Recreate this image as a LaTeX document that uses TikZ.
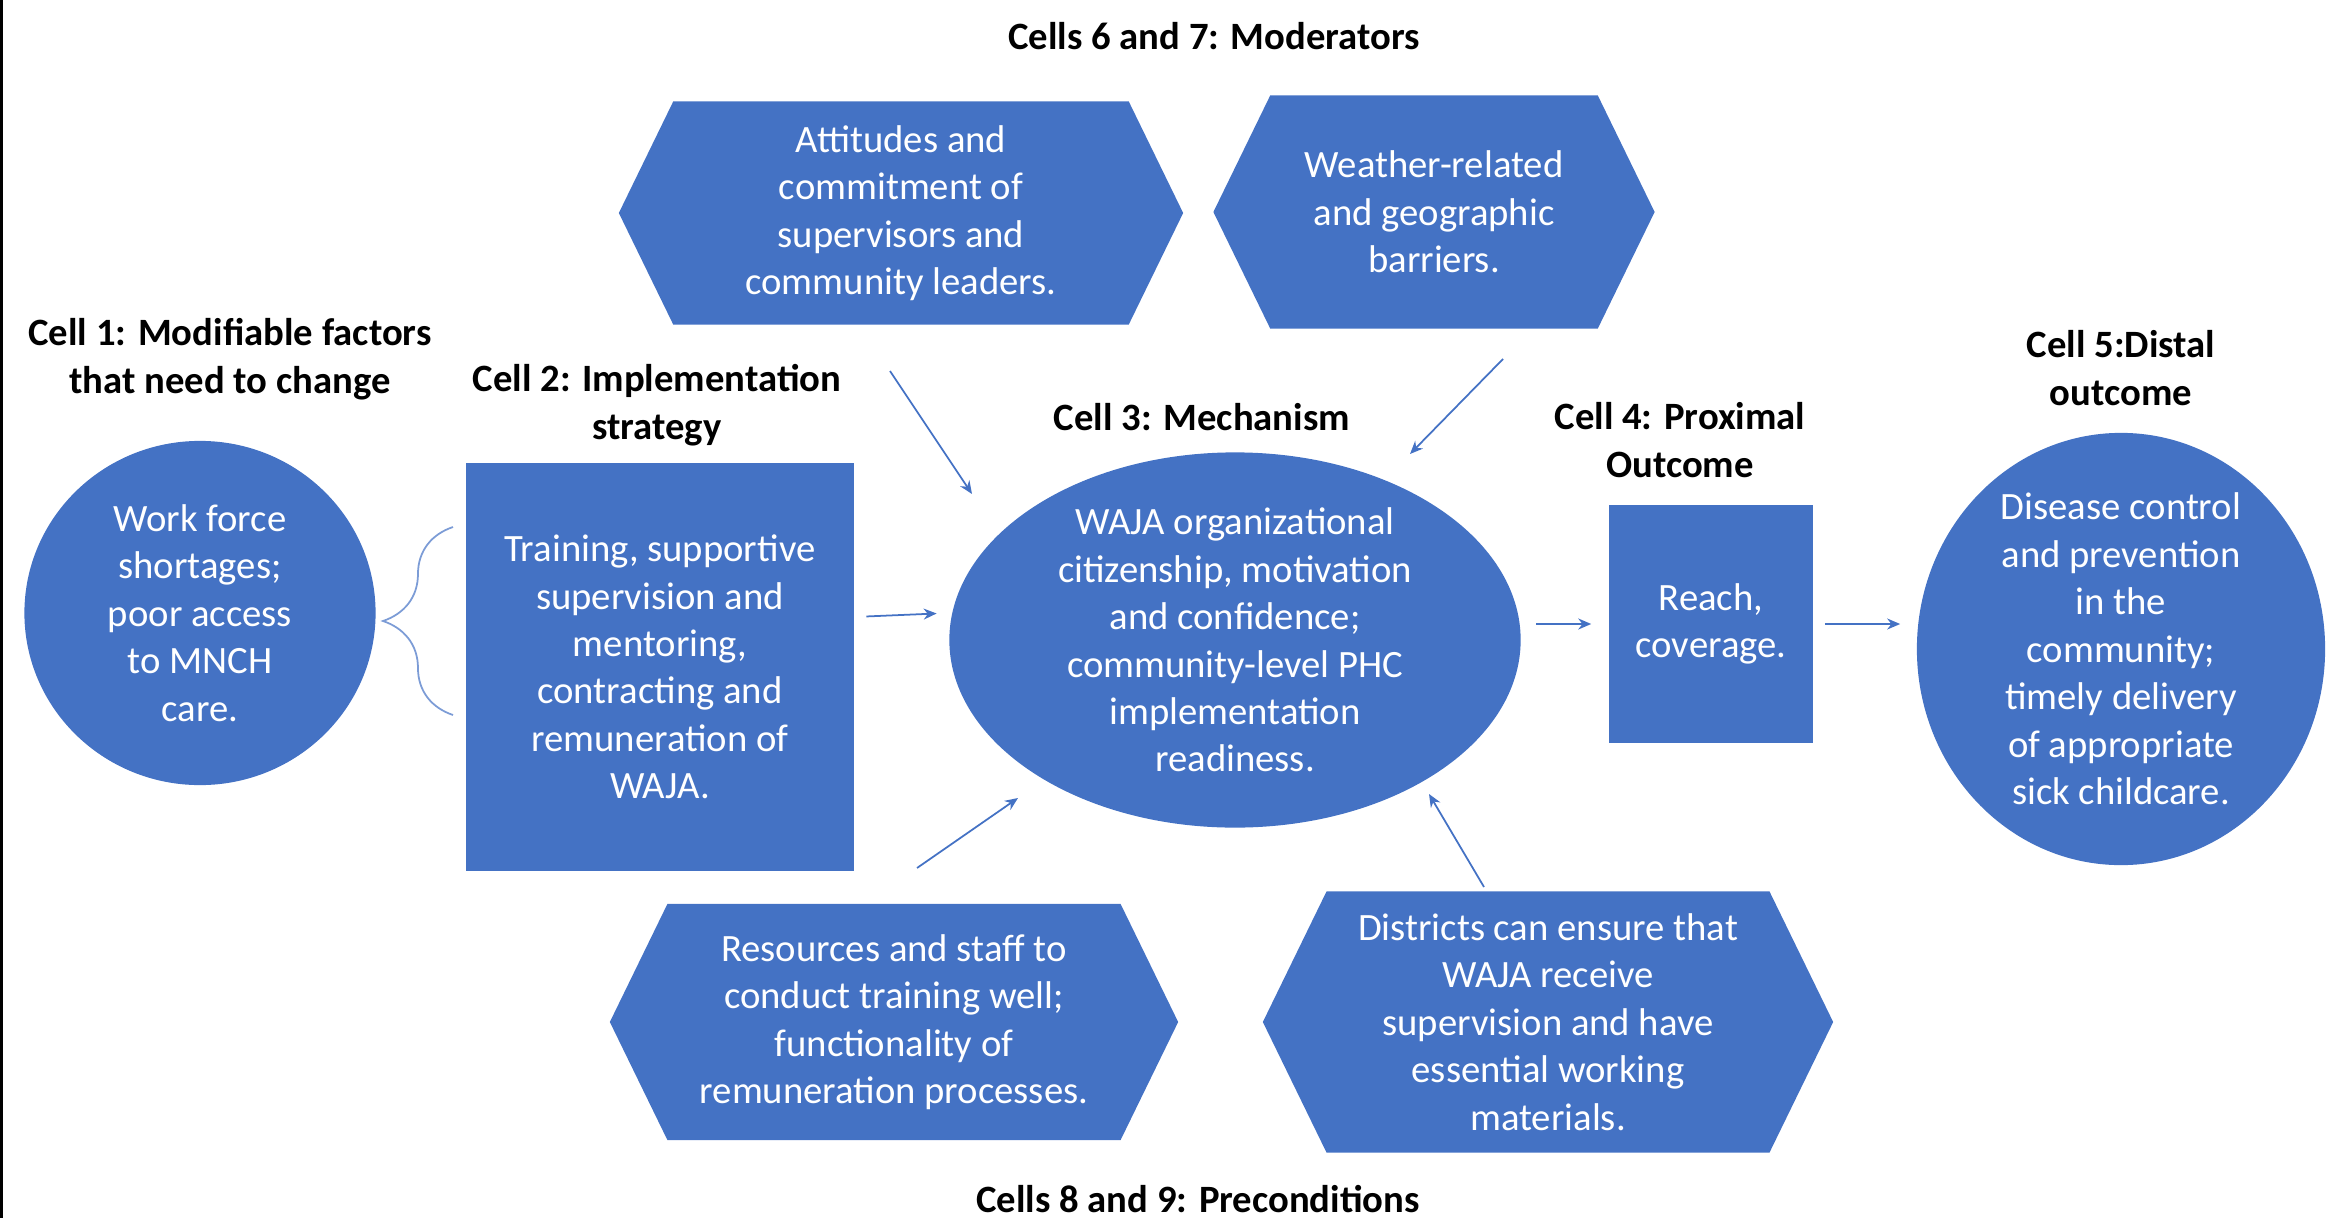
\documentclass[tikz,border=0pt]{standalone}
\usepackage{fontspec}
\setmainfont{Carlito}
\usetikzlibrary{shapes.geometric, shapes.symbols, arrows.meta, decorations.pathreplacing}
\definecolor{cellblue}{HTML}{4472C4}

\begin{document}
\begin{tikzpicture}[
    x = 0.01cm, y = -0.01cm,
    every node/.style = {font = \fontsize{11}{13.5}\selectfont, align = center},
    cellhead/.style = {font = \fontsize{11}{13.5}\selectfont\bfseries},
    cellbox/.style = {fill = cellblue, text = white, inner sep = 0pt},
    cellround/.style = {cellbox, ellipse, inner xsep = 0pt, inner ysep = -8pt},
    cellhex/.style = {cellbox, signal, signal to = west and east, signal pointer angle = 128},
    arr/.style = {draw = cellblue, line width = 0.5pt, -{Stealth[length = 1.3mm, width = 1.1mm]}}
  ]
  \useasboundingbox (0,0) rectangle (2327,1218);
  \draw[line width = 0.3mm] (1.5,0) -- (1.5,1218);

  % moderators
  \node[cellhead] (modhead) at (1214,36) {Cells 6 and 7: Moderators};
  \node[cellhex, minimum width = 5.64cm, minimum height = 2.23cm] (attitudes) at (901,213)
    {Attitudes and\\ commitment of\\ supervisors and\\ community leaders.};
  \node[cellhex, minimum width = 4.41cm, minimum height = 2.33cm] (weather) at (1434,212)
    {Weather-related\\ and geographic\\ barriers.};

  % cells 1 to 5
  \node[cellhead] (head1) at (230,359) {Cell 1: Modifiable factors\\ that need to change};
  \node[cellround, minimum width = 3.51cm, minimum height = 3.44cm] (factors) at (200,613)
    {Work force\\ shortages;\\ poor access\\ to MNCH\\ care.};
  \node[cellhead] (head2) at (657,405) {Cell 2: Implementation\\ strategy};
  \node[cellbox, minimum width = 3.87cm, minimum height = 4.08cm] (strategy) at (660,667)
    {Training, supportive\\ supervision and\\ mentoring,\\ contracting and\\ remuneration of\\ WAJA.};
  \node[cellhead] (head3) at (1202,417) {Cell 3: Mechanism};
  \node[cellround, minimum width = 5.71cm, minimum height = 3.75cm] (mechanism) at (1235,640)
    {WAJA organizational\\ citizenship, motivation\\ and confidence;\\ community-level PHC\\ implementation\\ readiness.};
  \node[cellhead] (head4) at (1680,440) {Cell 4: Proximal\\ Outcome};
  \node[cellbox, minimum width = 2.04cm, minimum height = 2.37cm] (reach) at (1711,624)
    {Reach,\\ coverage.};
  \node[cellhead] (head5) at (2121,368) {Cell 5:Distal\\ outcome};
  \node[cellround, minimum width = 4.08cm, minimum height = 4.32cm] (distal) at (2121,649)
    {Disease control\\ and prevention\\ in the\\ community;\\ timely delivery\\ of appropriate\\ sick childcare.};

  % preconditions
  \node[cellhex, minimum width = 5.68cm, minimum height = 2.36cm] (resources) at (894,1022)
    {Resources and staff to\\ conduct training well;\\ functionality of\\ remuneration processes.};
  \node[cellhex, minimum width = 5.70cm, minimum height = 2.61cm] (districts) at (1548,1022)
    {Districts can ensure that\\ WAJA receive\\ supervision and have\\ essential working\\ materials.};
  \node[cellhead] (prehead) at (1198,1199) {Cells 8 and 9: Preconditions};

  % brace
  \coordinate (bracetop) at (453,527);
  \coordinate (bracebot) at (453,715);
  \draw[cellblue!70, line width = 0.5pt, decorate, decoration = {brace, amplitude = 7mm}]
    (bracebot) -- (bracetop);

  % arrows
  \coordinate (atts) at (890,371);   \coordinate (atte) at (972,494);
  \coordinate (weas) at (1503,359);  \coordinate (weae) at (1410,454);
  \coordinate (ress) at (917,868);   \coordinate (rese) at (1018,798);
  \coordinate (diss) at (1484,887);  \coordinate (dise) at (1429,794);
  \draw[arr] (atts) -- (atte);
  \draw[arr] (weas) -- (weae);
  \draw[arr] (ress) -- (rese);
  \draw[arr] (diss) -- (dise);
  \draw[arr, shorten <= 1.2mm, shorten >= 1.2mm]
    ([yshift = 5mm]strategy.east) -- ([yshift = 2.7mm]mechanism.west);
  \draw[arr, shorten <= 1.5mm, shorten >= 1.7mm] (mechanism.east |- reach.west) -- (reach.west);
  \draw[arr, shorten <= 1.1mm, shorten >= 1.6mm] (reach.east) -- (reach.east -| distal.west);
\end{tikzpicture}
\end{document}
